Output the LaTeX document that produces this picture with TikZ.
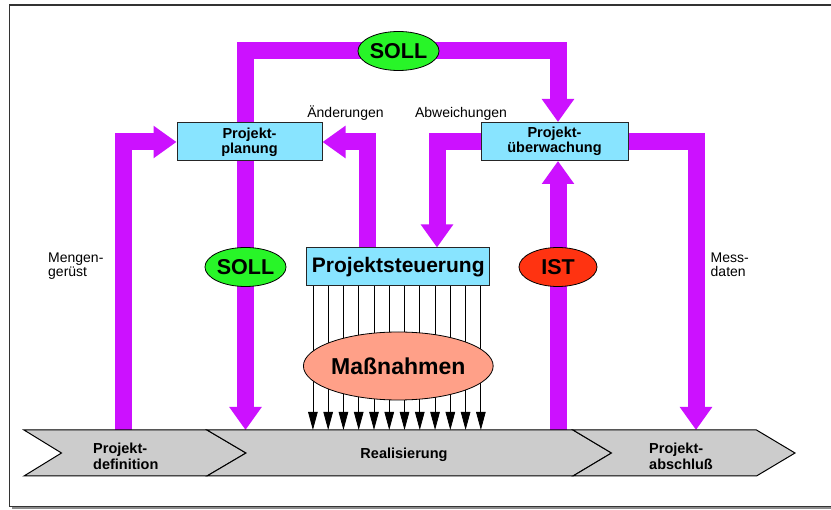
\documentclass[tikz,border=0pt]{standalone}
\usepackage{fontspec}
\setmainfont{Liberation Sans}
\usetikzlibrary{arrows.meta,shapes.geometric,positioning,backgrounds}
\definecolor{flowmag}{RGB}{204,17,255}
\definecolor{boxblue}{RGB}{136,228,255}
\definecolor{sollgreen}{RGB}{40,245,40}
\definecolor{istred}{RGB}{255,51,17}
\definecolor{massred}{RGB}{255,160,136}
\definecolor{phasegray}{RGB}{204,204,204}
\tikzset{
  flow/.style={draw=flowmag, line width=17pt, line join=miter, -{Triangle[length=23pt,width=31pt]}},
  box/.style={draw=black!85, line width=1pt, fill=boxblue, minimum height=38pt, inner sep=0pt,
    font=\fontsize{14.5}{15}\selectfont\bfseries, align=center},
  tag/.style={ellipse, draw=black, line width=0.8pt, minimum width=78pt, minimum height=39pt,
    inner sep=0pt, font=\fontsize{21.5}{24}\selectfont\bfseries},
  note/.style={font=\fontsize{14}{14}\selectfont, inner sep=0pt, align=left},
  phase/.style={draw=black, line width=1pt, fill=phasegray},
  phasetext/.style={font=\fontsize{14.5}{16}\selectfont\bfseries, inner sep=0pt, align=left},
  tick/.style={line width=0.8pt, -{Triangle[length=18pt,width=9.5pt]}}
}

\begin{document}
\begin{tikzpicture}[x=1pt, y=-1pt]
\useasboundingbox (0,0) rectangle (831,510);
\clip (0,0) rectangle (831,510);

% columns and rows of the flows
\coordinate (cMenge) at (123.5,0);
\coordinate (cSoll) at (245.5,0);
\coordinate (cAend) at (367,0);
\coordinate (cAbw) at (437,0);
\coordinate (cIst) at (558,0);
\coordinate (cMess) at (696,0);
\coordinate (rowTop) at (0,50.5);
\coordinate (phase) at (0,430);

\node[box, minimum width=145pt] (plan) at (249.5,142) {Projekt-\\planung};
\node[box, minimum width=147pt] (ueber) at (554.5,141.5) {Projekt-\\überwachung};
\node[box, minimum width=183pt, font=\fontsize{21}{24}\selectfont\bfseries] (steuer) at (398.3,267) {Projektsteuerung};

\begin{scope}[on background layer]
% frame
\fill[black!45] (12,8) rectangle (850,509.5);
\draw[black!80, line width=1.3pt, fill=white] (9.5,5) rectangle (850,506.5);
% flows
\draw[flow] (plan.north -| cSoll) -- (cSoll |- rowTop) -| (ueber.north -| cIst);
\draw[flow] (plan.south -| cSoll) -- (cSoll |- phase);
\draw[flow] (cIst |- phase) -- (ueber.south -| cIst);
\draw[flow] (cMenge |- phase) |- (plan.west);
\draw[flow] (steuer.north -| cAend) |- (plan.east);
\draw[flow] (ueber.west) -| (steuer.north -| cAbw);
\draw[flow] (ueber.east) -| (cMess |- phase);
\end{scope}

% phases
\draw[phase] (24,430) -- (207,430) -- (246,453) -- (207,476) -- (24,476) -- (61.5,453) -- cycle;
\draw[phase] (207,430) -- (573,430) -- (611.5,453) -- (573,476) -- (207,476) -- (246,453) -- cycle;
\draw[phase] (573,430) -- (756.5,430) -- (795,453) -- (756.5,476) -- (573,476) -- (611.5,453) -- cycle;
\node[phasetext, anchor=west] (defn) at (93,456) {Projekt-\\definition};
\node[phasetext] (real) at (404,455) {Realisierung};
\node[phasetext, anchor=west] (absch) at (649,456) {Projekt-\\abschluß};

% measures
\foreach \i in {0,...,11} {
  \path (steuer.south west) ++({6.6+15.27*\i},0) coordinate (s\i);
  \draw[tick] (s\i) -- (s\i |- phase);
}
\node[ellipse, draw=black, line width=0.8pt, fill=massred, minimum width=183pt, minimum height=68pt,
  inner sep=0pt, font=\fontsize{23}{26}\selectfont\bfseries] (massn) at (398.3,366) {Maßnahmen};

% tags
\node[tag, fill=sollgreen] (sollTop) at (398.5,51) {SOLL};
\node[tag, fill=sollgreen] (sollMid) at (245.5,267) {SOLL};
\node[tag, fill=istred] (ist) at (558,267) {IST};

% labels
\node[note, anchor=base] (lblAend) at (345.5,117.5) {Änderungen};
\node[note, anchor=base] (lblAbw) at (461,117.5) {Abweichungen};
\node[note, anchor=west] (lblMenge) at (48,266) {Mengen-\\gerüst};
\node[note, anchor=west] (lblMess) at (710.5,265) {Mess-\\daten};
\end{tikzpicture}
\end{document}
